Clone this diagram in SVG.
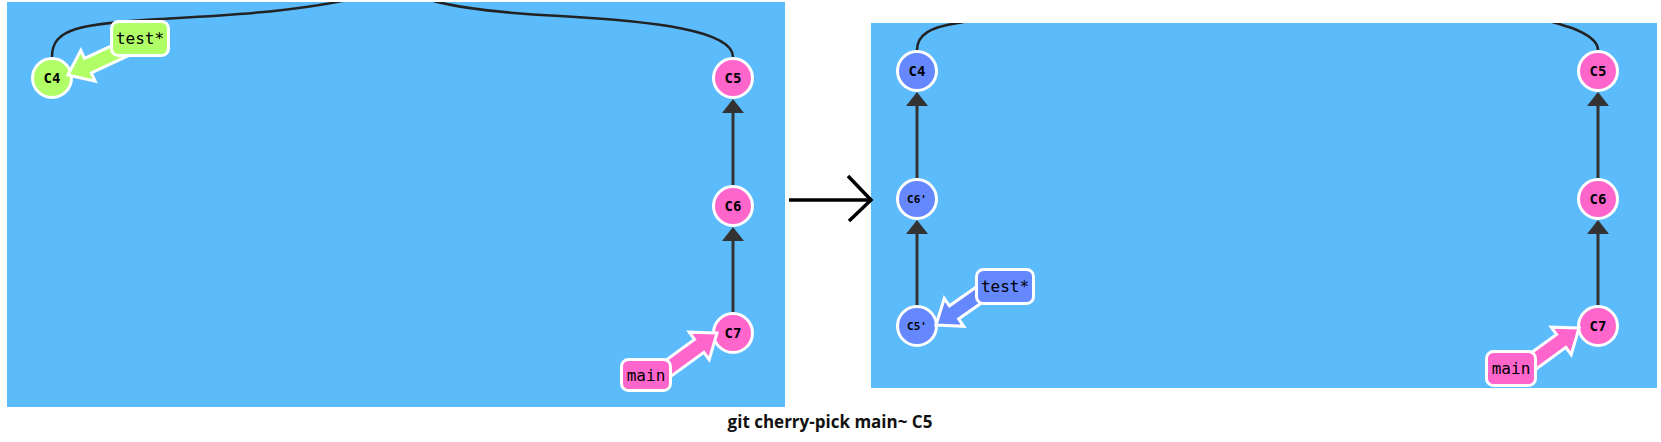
<svg xmlns="http://www.w3.org/2000/svg" width="1661" height="442" viewBox="0 0 1661 442">
<defs>
<style>
.panel{fill:#5CBBFB}
.n circle{stroke:#fff;stroke-width:3}
.pink{fill:#FF66CC}
.green{fill:#B0FF66}
.blue{fill:#6688FF}
.nt{font-family:"DejaVu Sans Mono",monospace;font-weight:bold;font-size:14px;fill:#000;text-anchor:middle;dominant-baseline:central}
.nt.s{font-size:11px}
.edge{stroke:#333;stroke-width:3;fill:none}
.curve{stroke:#222;stroke-width:2.5;fill:none}
.tri{fill:#333}
.lbl rect,.lbl polygon{stroke:#fff;stroke-width:3;stroke-linejoin:miter}
.lt{font-family:"DejaVu Sans Mono","Liberation Mono",monospace;font-size:16px;fill:#000;text-anchor:middle;dominant-baseline:central}
.cap{font-family:"Open Sans","Liberation Sans",sans-serif;font-weight:bold;font-size:17px;fill:#111;text-anchor:middle}
</style>
<clipPath id="clipL"><rect x="7" y="2" width="778" height="405"/></clipPath>
<clipPath id="clipR"><rect x="871" y="23" width="786" height="365"/></clipPath>
</defs>
<rect class="panel" x="7" y="2" width="778" height="405"/>
<rect class="panel" x="871" y="23" width="786" height="365"/>
<g id="connectors">
<g clip-path="url(#clipL)">
<path class="curve" d="M52,57 C52,28 80,24 160,19 C230,15 300,12 370,-5"/>
<path class="curve" d="M415,-5 C440,5 480,12 560,16 C650,21 733,30 733,57"/>
</g>
<g clip-path="url(#clipR)">
<path class="curve" d="M917,50 C917,35 930,27 958,23 C975,20 990,15 1000,5"/>
<path class="curve" d="M1530,15 C1545,20 1560,24 1572,28 C1590,35 1598,42 1598,50"/>
</g>
<line class="edge" x1="733" y1="185" x2="733" y2="112"/>
<polygon class="tri" points="733,99 722,113 744,113"/>
<line class="edge" x1="733" y1="312" x2="733" y2="240"/>
<polygon class="tri" points="733,227 722,241 744,241"/>
<line class="edge" x1="917" y1="178" x2="917" y2="105"/>
<polygon class="tri" points="917,92 906,106 928,106"/>
<line class="edge" x1="917" y1="305" x2="917" y2="233"/>
<polygon class="tri" points="917,220 906,234 928,234"/>
<line class="edge" x1="1598" y1="178" x2="1598" y2="105"/>
<polygon class="tri" points="1598,92 1587,106 1609,106"/>
<line class="edge" x1="1598" y1="305" x2="1598" y2="233"/>
<polygon class="tri" points="1598,220 1587,234 1609,234"/>
<g id="transition">
<line x1="789" y1="200" x2="870" y2="200" stroke="#000" stroke-width="3.5"/>
<polyline points="848,176 871,200 849,221" fill="none" stroke="#000" stroke-width="3.5"/>
</g>
</g>
<g id="node-L-C4" class="n"><circle class="green" cx="52" cy="78" r="19.5"/><text class="nt" x="52" y="78">C4</text></g>
<g id="node-L-C5" class="n"><circle class="pink" cx="733" cy="78" r="19.5"/><text class="nt" x="733" y="78">C5</text></g>
<g id="node-L-C6" class="n"><circle class="pink" cx="733" cy="206" r="19.5"/><text class="nt" x="733" y="206">C6</text></g>
<g id="node-L-C7" class="n"><circle class="pink" cx="733" cy="333" r="19.5"/><text class="nt" x="733" y="333">C7</text></g>
<g id="node-R-C4" class="n"><circle class="blue" cx="917" cy="71" r="19.5"/><text class="nt" x="917" y="71">C4</text></g>
<g id="node-R-C6p" class="n"><circle class="blue" cx="917" cy="199" r="19.5"/><text class="nt s" x="917" y="199">C6'</text></g>
<g id="node-R-C5p" class="n"><circle class="blue" cx="917" cy="326" r="19.5"/><text class="nt s" x="917" y="326">C5'</text></g>
<g id="node-R-C5" class="n"><circle class="pink" cx="1598" cy="71" r="19.5"/><text class="nt" x="1598" y="71">C5</text></g>
<g id="node-R-C6" class="n"><circle class="pink" cx="1598" cy="199" r="19.5"/><text class="nt" x="1598" y="199">C6</text></g>
<g id="node-R-C7" class="n"><circle class="pink" cx="1598" cy="326" r="19.5"/><text class="nt" x="1598" y="326">C7</text></g>
<g id="label-L-test" class="lbl">
<polygon class="green" points="0,0 -22,-17 -22,-8 -80,-8 -80,8 -22,8 -22,17" transform="translate(68,75) rotate(155)"/>
<rect class="green" x="111.5" y="21.5" width="57" height="34" rx="7"/>
<text class="lt" x="140" y="38.5">test*</text>
</g>
<g id="label-L-main" class="lbl">
<polygon class="pink" points="0,0 -22,-17 -22,-8 -80,-8 -80,8 -22,8 -22,17" transform="translate(717,333) rotate(-36)"/>
<rect class="pink" x="621.5" y="359.5" width="49" height="31" rx="7"/>
<text class="lt" x="646" y="375">main</text>
</g>
<g id="label-R-test" class="lbl">
<polygon class="blue" points="0,0 -22,-17 -22,-8 -80,-8 -80,8 -22,8 -22,17" transform="translate(936,325) rotate(145)"/>
<rect class="blue" x="976.5" y="269.5" width="57" height="34" rx="7"/>
<text class="lt" x="1005" y="286.5">test*</text>
</g>
<g id="label-R-main" class="lbl">
<polygon class="pink" points="0,0 -22,-17 -22,-8 -80,-8 -80,8 -22,8 -22,17" transform="translate(1579,328) rotate(-36)"/>
<rect class="pink" x="1486.5" y="351.5" width="49" height="34" rx="7"/>
<text class="lt" x="1511" y="368.5">main</text>
</g>
<text class="cap" x="830" y="428">git cherry-pick main~ C5</text>
</svg>
